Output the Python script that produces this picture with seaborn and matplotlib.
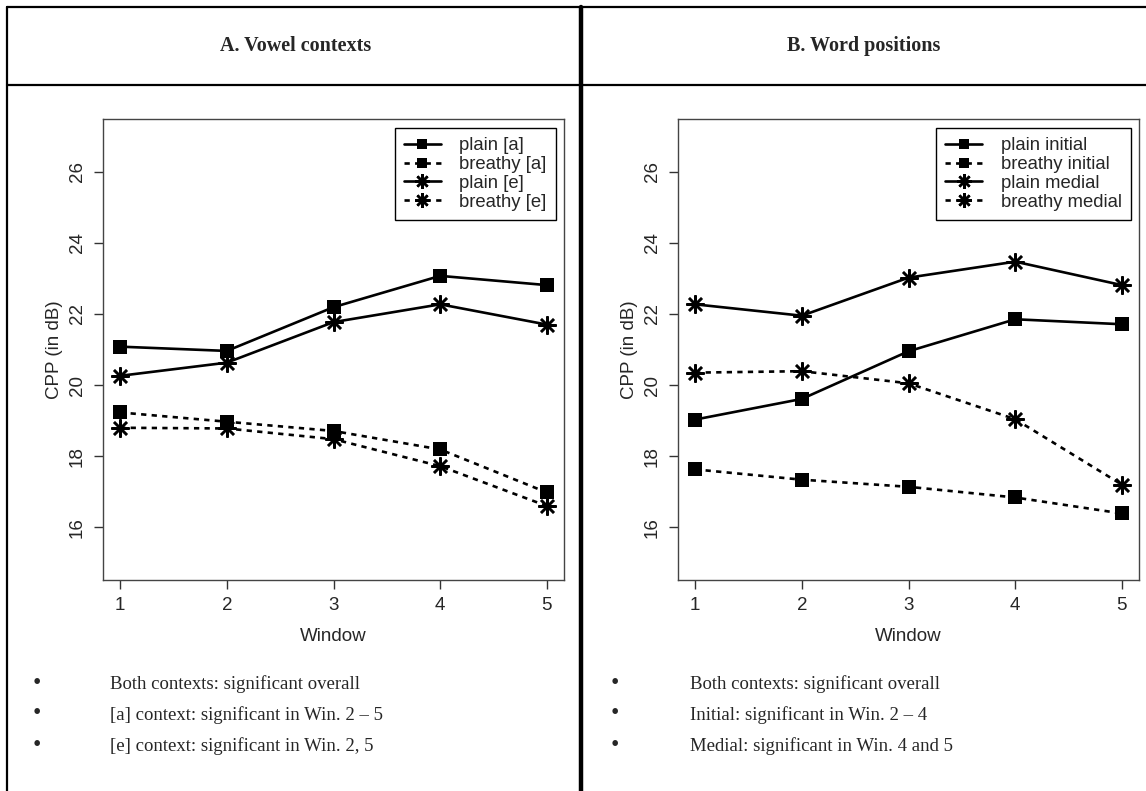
import numpy as np
import pandas as pd
import matplotlib
matplotlib.use('Agg')
import matplotlib.pyplot as plt
import seaborn as sns
from matplotlib.lines import Line2D

# values (CPP in dB per analysis window)
windows = [1, 2, 3, 4, 5]

plain_a = [21.08, 20.96, 22.19, 23.07, 22.81]
breathy_a = [19.23, 18.97, 18.71, 18.19, 16.98]
plain_e = [20.26, 20.63, 21.77, 22.27, 21.70]
breathy_e = [18.80, 18.78, 18.48, 17.72, 16.60]

plain_initial = [19.03, 19.61, 20.95, 21.85, 21.71]
breathy_initial = [17.63, 17.34, 17.14, 16.84, 16.39]
plain_medial = [22.27, 21.95, 23.02, 23.47, 22.81]
breathy_medial = [20.35, 20.39, 20.05, 19.04, 17.20]

labels_a = ['plain [a]', 'breathy [a]', 'plain [e]', 'breathy [e]']
labels_b = ['plain initial', 'breathy initial', 'plain medial', 'breathy medial']

titles = ['A. Vowel contexts', 'B. Word positions']
notes_a = ['Both contexts: significant overall',
           '[a] context: significant in Win. 2 \u2013 5',
           '[e] context: significant in Win. 2, 5']
notes_b = ['Both contexts: significant overall',
           'Initial: significant in Win. 2 \u2013 4',
           'Medial: significant in Win. 4 and 5']

sns.set_style('ticks')
plt.rcParams['font.family'] = ['Liberation Sans', 'DejaVu Sans']
serif = ['Liberation Serif', 'DejaVu Serif']

W, H = 1146, 791
fig = plt.figure(figsize=(W / 100, H / 100), dpi=100)


def box(x0, y0, x1, y1):
    return [x0 / W, 1 - y1 / H, (x1 - x0) / W, (y1 - y0) / H]


ax_a = fig.add_axes(box(103, 119, 564, 580))
ax_b = fig.add_axes(box(678, 119, 1139, 580))

asterisk = (8, 2, 0)
dotted = (0, (2, 2))
styles = [('s', '-', 9.5), ('s', dotted, 9.5), (asterisk, '-', 13), (asterisk, dotted, 13)]


def draw(ax, series, labels):
    for vals, lab, (mk, ls, size) in zip(series, labels, styles):
        df = pd.DataFrame({'Window': windows, 'CPP': vals})
        sns.lineplot(data=df, x='Window', y='CPP', ax=ax, color='black',
                     lw=1.9, linestyle=ls, marker=mk, ms=size,
                     mec='black', mew=0 if mk == 's' else 1.8, label=lab)
    ax.set_xlim(0.84, 5.16)
    ax.set_ylim(14.52, 27.48)
    ax.set_xticks(windows)
    ax.set_yticks([16, 18, 20, 22, 24, 26])
    ax.tick_params(direction='out', length=6.5, width=1, color='#333',
                   labelsize=13.5, pad=6)
    plt.setp(ax.get_yticklabels(), rotation=90, va='center')
    for sp in ax.spines.values():
        sp.set_visible(True)
        sp.set_color('#444')
        sp.set_linewidth(1)
    ax.set_xlabel('Window', fontsize=13.5, labelpad=10)
    ax.set_ylabel('CPP (in dB)', fontsize=13.5, labelpad=4)
    leg = ax.legend(loc='upper right', bbox_to_anchor=(1 - 8 / 461, 1 - 9 / 461),
                    borderaxespad=0, fontsize=13.3, frameon=True, fancybox=False,
                    edgecolor='black', framealpha=1, handlelength=2.0,
                    handletextpad=1.0, labelspacing=0.1, markerscale=0.8,
                    borderpad=0.5)
    leg.get_frame().set_linewidth(1)


draw(ax_a, [plain_a, breathy_a, plain_e, breathy_e], labels_a)
draw(ax_b, [plain_initial, breathy_initial, plain_medial, breathy_medial], labels_b)

# table grid around the two panels
def rule(x0, y0, x1, y1, lw):
    fig.add_artist(Line2D([x0 / W, x1 / W], [1 - y0 / H, 1 - y1 / H],
                          transform=fig.transFigure, color='black', lw=lw))


rule(7, 7, W, 7, 1.6)
rule(7, 85, W, 85, 1.6)
rule(7, 7, 7, H, 1.6)
rule(581, 7, 581, H, 3.2)

for xc, t in zip([296, 864], titles):
    fig.text(xc / W, 1 - 46 / H, t, family=serif, weight='bold', fontsize=14.5,
             ha='center', va='center')

for (xb, xt), notes in zip([(37, 110), (615, 690)], [notes_a, notes_b]):
    for yc, n in zip([684, 715, 746], notes):
        fig.text(xb / W, 1 - (yc - 1) / H, '\u2022', family=serif, fontsize=17,
                 ha='center', va='center')
        fig.text(xt / W, 1 - yc / H, n, family=serif, fontsize=13.5,
                 ha='left', va='center')

fig.savefig('out.png', dpi=100)
